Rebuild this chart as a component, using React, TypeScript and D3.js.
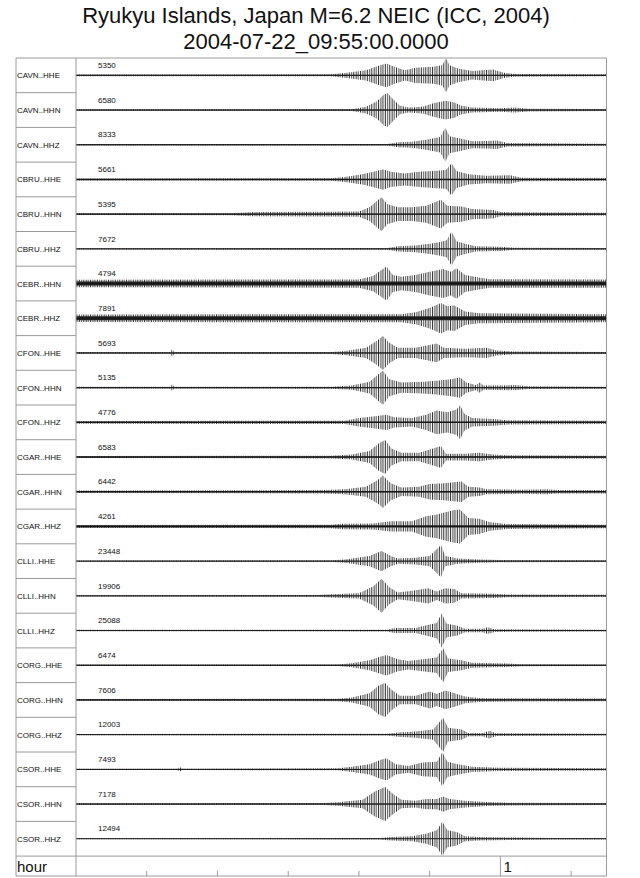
import React from 'react';
import * as d3 from 'd3';

const TITLE = 'Ryukyu Islands, Japan M=6.2 NEIC (ICC, 2004)';
const SUBTITLE = '2004-07-22_09:55:00.0000';
const AXIS_UNIT = 'hour';

const channels = [
  'CAVN..HHE', 'CAVN..HHN', 'CAVN..HHZ',
  'CBRU..HHE', 'CBRU..HHN', 'CBRU..HHZ',
  'CEBR..HHN', 'CEBR..HHZ',
  'CFON..HHE', 'CFON..HHN', 'CFON..HHZ',
  'CGAR..HHE', 'CGAR..HHN', 'CGAR..HHZ',
  'CLLI..HHE', 'CLLI..HHN', 'CLLI..HHZ',
  'CORG..HHE', 'CORG..HHN', 'CORG..HHZ',
  'CSOR..HHE', 'CSOR..HHN', 'CSOR..HHZ',
];

const peakCounts = [
  5350, 6580, 8333,
  5661, 5395, 7672,
  4794, 7891,
  5693, 5135, 4776,
  6583, 6442, 4261,
  23448, 19906, 25088,
  6474, 7606, 12003,
  7493, 7178, 12494,
];

// solid background noise level, fraction of the trace peak
const noiseLevels = [
  0.03, 0.03, 0.025,
  0.04, 0.035, 0.025,
  0.12, 0.12,
  0.03, 0.03, 0.045,
  0.04, 0.045, 0.065,
  0.025, 0.025, 0.025,
  0.025, 0.035, 0.025,
  0.025, 0.03, 0.02,
];

// minutes after 09:55:00 of the axis ticks
const tickMinutes = [10, 20, 30, 40, 50, 60, 70];
const hourTickMinutes = [60];
const hourTickLabels = ['1'];
const windowMinutes = [0, 75];

// envelopes: [minute, amplitude as fraction of peak]
const CAVN_HHE = [[0,0.05],[36,0.06],[38.3,0.15],[41,0.3],[43,0.6],[43.9,0.7],[45,0.5],[46.5,0.3],[48,0.45],[50.5,0.5],[51.8,0.6],[52.3,1.0],[52.8,0.6],[54,0.4],[56,0.25],[57.5,0.3],[59,0.35],[60.5,0.15],[62,0.08],[75,0.06]];
const CAVN_HHN = [[0,0.04],[39,0.05],[41,0.2],[42.5,0.5],[43.5,0.9],[44,1.0],[44.7,0.7],[45.8,0.25],[47,0.15],[49,0.2],[50.5,0.4],[52.2,0.55],[53.5,0.45],[54.5,0.25],[56,0.15],[60,0.1],[62,0.15],[64,0.08],[75,0.06]];
const CAVN_HHZ = [[0,0.04],[44,0.05],[45.5,0.15],[47.5,0.18],[49.5,0.3],[51.5,0.45],[52.2,1.0],[52.8,0.5],[54.5,0.35],[56,0.2],[58,0.22],[59.5,0.25],[61,0.1],[75,0.06]];
const CBRU_HHE = [[0,0.06],[36,0.07],[38,0.15],[40.5,0.3],[42.5,0.5],[43.4,0.6],[44.5,0.45],[46.5,0.35],[48.5,0.45],[50.5,0.5],[52.3,0.55],[53.1,0.95],[53.8,0.5],[55.5,0.3],[58,0.22],[61.4,0.25],[63,0.1],[75,0.08]];
const CBRU_HHN = [[0,0.05],[22,0.06],[25,0.12],[35,0.14],[40,0.15],[41.5,0.4],[42.6,0.8],[43.2,1.0],[44,0.6],[45.5,0.4],[47.5,0.4],[49.5,0.5],[51.6,0.85],[52.5,0.5],[54.5,0.45],[56,0.3],[59,0.25],[60,0.12],[75,0.08]];
const CBRU_HHZ = [[0,0.04],[44,0.05],[45.5,0.15],[48,0.2],[50,0.3],[51.5,0.4],[52.4,0.5],[53.1,1.0],[53.8,0.45],[55,0.3],[56.5,0.15],[60,0.12],[62,0.06],[75,0.05]];
const CEBR_HHN = [[0,0.22],[40,0.24],[42,0.45],[43.9,1.0],[44.8,0.5],[46,0.4],[48,0.5],[50,0.7],[51.9,0.85],[53,0.7],[53.8,0.9],[55,0.5],[57,0.35],[58.5,0.25],[75,0.24]];
const CEBR_HHZ = [[0,0.22],[46,0.24],[48,0.35],[50,0.6],[51.6,0.9],[52.5,0.7],[53.5,0.75],[55,0.4],[57,0.3],[75,0.24]];
const CFON_HHE = [[0,0.05],[13.3,0.05],[13.6,0.22],[13.9,0.05],[36,0.06],[38,0.12],[41,0.3],[42.5,0.7],[43.4,1.0],[44.3,0.6],[45.5,0.3],[48,0.3],[49.8,0.45],[51,0.55],[52,0.3],[55,0.25],[58,0.3],[59.5,0.15],[62,0.08],[75,0.06]];
const CFON_HHN = [[0,0.05],[13.3,0.05],[13.6,0.2],[13.9,0.05],[36,0.06],[39,0.12],[41.5,0.35],[42.8,0.8],[43.4,1.0],[44.3,0.5],[46,0.3],[49,0.35],[51,0.4],[53,0.5],[54.3,0.6],[55.2,0.3],[56.5,0.15],[57.1,0.3],[57.6,0.12],[62,0.15],[64,0.08],[75,0.06]];
const CFON_HHZ = [[0,0.08],[38,0.1],[40,0.25],[42,0.35],[43.9,0.45],[45,0.3],[47.5,0.25],[49.5,0.45],[51,0.7],[52.5,0.6],[53.8,0.75],[54.3,1.0],[54.9,0.5],[56,0.25],[59,0.2],[61,0.12],[75,0.1]];
const CGAR_HHE = [[0,0.06],[36,0.08],[39,0.15],[41.5,0.35],[42.8,0.8],[43.7,1.0],[44.6,0.5],[46,0.25],[48.5,0.25],[50.5,0.5],[51.6,0.65],[52.3,0.2],[55,0.2],[57,0.25],[59,0.15],[61,0.1],[75,0.08]];
const CGAR_HHN = [[0,0.07],[35,0.1],[38,0.15],[41,0.3],[42.7,0.7],[43.4,0.95],[44.5,0.5],[46,0.25],[48.5,0.3],[50,0.45],[52,0.5],[54.5,0.6],[55.5,0.3],[57.1,0.25],[58,0.15],[63,0.12],[66.5,0.15],[68,0.1],[75,0.1]];
const CGAR_HHZ = [[0,0.09],[36,0.1],[37.5,0.16],[42,0.18],[44.5,0.3],[47.5,0.3],[49.5,0.6],[51,0.7],[53.3,0.95],[54.3,1.0],[55.5,0.5],[57,0.45],[58.5,0.25],[61,0.15],[75,0.1]];
const CLLI_HHE = [[0,0.04],[36,0.05],[38,0.1],[41.5,0.3],[43.2,0.6],[44.5,0.3],[45.5,0.15],[48,0.2],[50,0.3],[51.6,0.95],[52.2,0.3],[54,0.15],[57,0.1],[60,0.07],[75,0.05]];
const CLLI_HHN = [[0,0.04],[34,0.05],[36,0.1],[40,0.15],[42,0.55],[43.2,1.0],[44.3,0.5],[45.5,0.2],[47.5,0.3],[49.8,0.45],[51,0.25],[52.2,0.45],[53.5,0.4],[54.5,0.15],[59,0.12],[61,0.08],[75,0.06]];
const CLLI_HHZ = [[0,0.04],[44,0.05],[45,0.15],[48,0.15],[50,0.35],[51,0.45],[51.7,1.0],[52.4,0.4],[53.8,0.3],[55,0.1],[57.5,0.1],[58.2,0.2],[59.2,0.08],[75,0.05]];
const CORG_HHE = [[0,0.04],[37,0.05],[39,0.12],[41.5,0.3],[43,0.5],[43.9,0.6],[45.5,0.35],[47,0.25],[49,0.35],[51,0.45],[51.9,1.0],[52.6,0.4],[54.5,0.3],[56,0.15],[61,0.1],[63,0.06],[75,0.05]];
const CORG_HHN = [[0,0.06],[37,0.07],[39,0.15],[41.5,0.4],[42.8,0.85],[43.7,1.0],[44.6,0.6],[45.8,0.25],[48,0.25],[50,0.5],[51,0.35],[52.2,0.55],[53.5,0.4],[55,0.2],[57,0.12],[59,0.1],[75,0.08]];
const CORG_HHZ = [[0,0.04],[44,0.05],[45.5,0.12],[48,0.18],[50.5,0.3],[51.9,1.0],[52.6,0.4],[54.5,0.3],[55.5,0.1],[57.5,0.1],[58.4,0.22],[59.5,0.08],[75,0.05]];
const CSOR_HHE = [[0,0.04],[14.3,0.04],[14.7,0.12],[15.1,0.04],[37,0.06],[39,0.15],[41.5,0.3],[43,0.55],[43.9,0.65],[45.2,0.3],[47,0.2],[49,0.4],[51,0.45],[51.8,1.0],[52.5,0.45],[54,0.3],[56,0.15],[60,0.1],[75,0.07]];
const CSOR_HHN = [[0,0.05],[35,0.06],[37,0.1],[40.5,0.25],[42.3,0.75],[43.7,1.0],[44.8,0.6],[46,0.25],[48,0.2],[49.5,0.3],[51,0.3],[51.9,0.45],[52.8,0.3],[55,0.2],[58,0.12],[61,0.08],[75,0.06]];
const CSOR_HHZ = [[0,0.03],[43,0.04],[44.5,0.1],[47.5,0.15],[49.5,0.3],[51,0.5],[51.8,1.0],[52.5,0.5],[53.8,0.4],[55,0.15],[57,0.1],[62,0.07],[68,0.05],[75,0.04]];

const envelopes = [
  CAVN_HHE, CAVN_HHN, CAVN_HHZ,
  CBRU_HHE, CBRU_HHN, CBRU_HHZ,
  CEBR_HHN, CEBR_HHZ,
  CFON_HHE, CFON_HHN, CFON_HHZ,
  CGAR_HHE, CGAR_HHN, CGAR_HHZ,
  CLLI_HHE, CLLI_HHN, CLLI_HHZ,
  CORG_HHE, CORG_HHN, CORG_HHZ,
  CSOR_HHE, CSOR_HHN, CSOR_HHZ,
];

export default function App() {
  const W = 640, H = 878;
  const left = 16, labelRight = 76, right = 606.5, top = 58;
  const rowH = 34.7;
  const axisTop = top + channels.length * rowH;
  const bottom = 876;
  const half = 17;
  const font = '"Liberation Sans", Arial, Helvetica, sans-serif';
  const frame = '#9a9a9a';

  const x = d3.scaleLinear().domain(windowMinutes).range([labelRight, right]);

  return (
    <svg width={W} height={H} style={{ position: 'absolute', left: 0, top: 0, background: '#fff' }}
      fontFamily={font}>
      <defs>
        <pattern id="wig" width={3.6} height={10} patternUnits="userSpaceOnUse">
          <rect x={0} y={0} width={0.8} height={10} fill="#111" />
          <rect x={1.8} y={0} width={0.7} height={10} fill="#444" />
        </pattern>
      </defs>
      <rect width={W} height={H} fill="#fff" />
      <text x={316} y={23} textAnchor="middle" fontSize={22} fill="#111">{TITLE}</text>
      <text x={316} y={49} textAnchor="middle" fontSize={22} fill="#111">{SUBTITLE}</text>

      {channels.map((ch, i) => {
        const rowTop = top + i * rowH;
        const cy = rowTop + rowH / 2;
        const y = d3.scaleLinear().domain([-1, 1]).range([cy + half, cy - half]);
        const area = d3.area<number[]>()
          .x(d => x(d[0]))
          .y0(d => y(-d[1]))
          .y1(d => y(d[1]))
          .curve(d3.curveLinear);
        const n = noiseLevels[i];
        const noiseBand = area([[windowMinutes[0], n], [windowMinutes[1], n]]) || '';
        const base = d3.line<number[]>().x(d => x(d[0])).y(() => y(0))([[windowMinutes[0], 0], [windowMinutes[1], 0]]) || '';
        return (
          <g key={ch}>
            {i > 0 && <line x1={left} x2={labelRight} y1={rowTop} y2={rowTop} stroke={frame} strokeWidth={1} />}
            <text x={17} y={cy + 3} fontSize={8} fill="#111">{ch}</text>
            <text x={98} y={rowTop + 10} fontSize={8} fill="#111">{peakCounts[i]}</text>
            <path d={area(envelopes[i] as number[][]) || ''} fill="url(#wig)" />
            <path d={noiseBand} fill="#222" />
            <path d={base} stroke="#111" strokeWidth={0.8} fill="none" />
          </g>
        );
      })}

      {/* frame */}
      <line x1={left} x2={right} y1={top} y2={top} stroke={frame} />
      <line x1={left} x2={right} y1={axisTop} y2={axisTop} stroke={frame} />
      <line x1={left} x2={right} y1={bottom} y2={bottom} stroke={frame} />
      <line x1={left} x2={left} y1={top} y2={bottom} stroke={frame} />
      <line x1={labelRight} x2={labelRight} y1={top} y2={bottom} stroke={frame} />
      <line x1={right} x2={right} y1={top} y2={bottom} stroke={frame} />

      {/* time axis */}
      <text x={17} y={872} fontSize={15} fill="#111">{AXIS_UNIT}</text>
      {tickMinutes.map(m => (
        hourTickMinutes.includes(m) ? null :
        <line key={m} x1={x(m)} x2={x(m)} y1={bottom - 5} y2={bottom} stroke={frame} />
      ))}
      {hourTickMinutes.map((m, k) => (
        <g key={'h' + m}>
          <line x1={x(m)} x2={x(m)} y1={axisTop} y2={bottom} stroke={frame} />
          <text x={x(m) + 3} y={872} fontSize={15} fill="#111">{hourTickLabels[k]}</text>
        </g>
      ))}
    </svg>
  );
}
